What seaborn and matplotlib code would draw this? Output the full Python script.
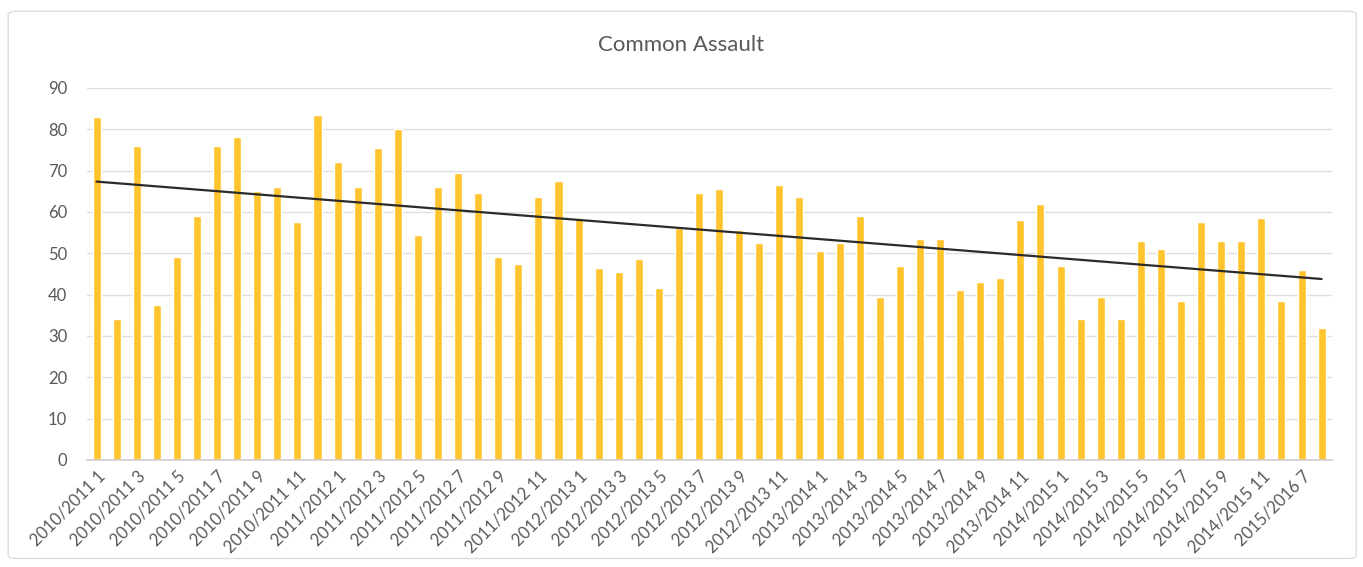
import numpy as np
import pandas as pd
import matplotlib.pyplot as plt
import seaborn as sns
from matplotlib.patches import FancyBboxPatch

# ----------------------------------------
# Data
# ----------------------------------------
seasons = ["2010/2011", "2011/2012", "2012/2013", "2013/2014", "2014/2015"]
months = list(range(1, 13))
periods = [f"{s} {m}" for s in seasons for m in months] + ["2015/2016 7", "2015/2016 8"]

counts = [83, 34, 76, 37.5, 49, 59, 76, 78, 65, 66, 57.5, 83.5,
          72, 66, 75.5, 80, 54.5, 66, 69.5, 64.5, 49, 47.5, 63.5, 67.5,
          58.5, 46.5, 45.5, 48.5, 41.5, 56, 64.5, 65.5, 55.5, 52.5, 66.5, 63.5,
          50.5, 52.5, 59, 39.5, 47, 53.5, 53.5, 41, 43, 44, 58, 62,
          47, 34, 39.5, 34, 53, 51, 38.5, 57.5, 53, 53, 58.5, 38.5,
          46, 32]

df = pd.DataFrame({"period": periods, "count": counts})

# ----------------------------------------
# Plot
# ----------------------------------------
sns.set_theme(style="white")
plt.rcParams["font.family"] = ["Lato", "DejaVu Sans"]

fig = plt.figure(figsize=(13.63, 5.67), dpi=100)
ax = fig.add_axes([0.0635, 0.189, 0.9135, 0.656])

sns.barplot(data=df, x="period", y="count", color="#FFC42E", saturation=1,
            width=0.4, ax=ax)

# linear trendline
xs = np.arange(len(counts))
slope, icpt = np.polyfit(xs, counts, 1)
ax.plot(xs, slope * xs + icpt, color="#2b2b2b", lw=1.6)

ax.set_ylim(0, 90)
ax.set_xlim(-0.5, len(counts) - 0.5)
ax.set_yticks(range(0, 91, 10))
ax.grid(axis="y", color="#e0e0e0", lw=1)
ax.set_axisbelow(True)
for side in ["top", "right", "left"]:
    ax.spines[side].set_visible(False)
ax.spines["bottom"].set_color("#d0d0d0")

ax.set_xticks(xs[::2])
ax.set_xticklabels(df["period"][::2], rotation=45, ha="right",
                   rotation_mode="anchor", fontsize=12, color="#595959")
ax.tick_params(axis="x", length=0, pad=6)
ax.tick_params(axis="y", length=0, labelsize=12, labelcolor="#595959", pad=14)
ax.set_xlabel("")
ax.set_ylabel("")

fig.text(0.5, 0.92, "Common Assault", ha="center", va="center",
         fontsize=16, color="#595959")

# outer chart frame
frame = FancyBboxPatch((0.006, 0.015), 0.989, 0.965, transform=fig.transFigure,
                       boxstyle="round,pad=0,rounding_size=0.006",
                       fill=False, edgecolor="#dcdcdc", lw=1)
fig.patches.append(frame)

plt.savefig("out.png", dpi=100)
plt.close()
